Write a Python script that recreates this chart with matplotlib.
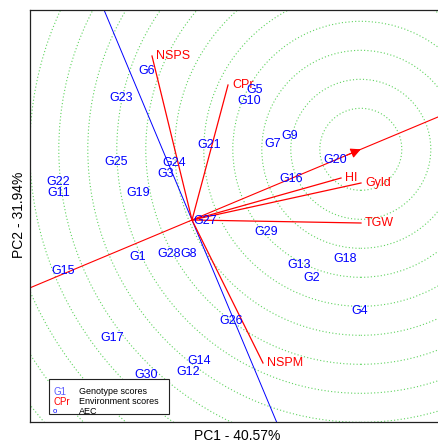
import numpy as np
import matplotlib

matplotlib.use("Agg")
import matplotlib.pyplot as plt
from matplotlib.patches import Rectangle, Circle

plt.rcParams["font.family"] = ["Liberation Sans", "DejaVu Sans"]

# genotype scores (PC1, PC2)
genotypes = ["G1", "G2", "G3", "G4", "G5", "G6", "G7", "G8", "G9", "G10",
             "G11", "G12", "G13", "G14", "G15", "G16", "G17", "G18", "G19", "G20",
             "G21", "G22", "G23", "G24", "G25", "G26", "G27", "G28", "G29", "G30"]
gen_pc1 = [-0.54, 1.20, -0.26, 1.68, 0.63, -0.45, 0.81, -0.03, 0.98, 0.57,
           -1.33, -0.04, 1.07, 0.07, -1.29, 0.99, -0.80, 1.53, -0.54, 1.43,
           0.17, -1.34, -0.71, -0.18, -0.76, 0.39, 0.13, -0.23, 0.74, -0.46]
gen_pc2 = [-0.37, -0.58, 0.46, -0.91, 1.30, 1.49, 0.76, -0.34, 0.84, 1.19,
           0.27, -1.52, -0.45, -1.41, -0.51, 0.41, -1.18, -0.39, 0.27, 0.60,
           0.75, 0.38, 1.22, 0.57, 0.58, -1.01, -0.01, -0.34, -0.12, -1.55]

# environment (trait) scores
environments = ["NSPS", "CPr", "HI", "Gyld", "TGW", "NSPM"]
env_pc1 = [-0.40, 0.36, 1.49, 1.69, 1.69, 0.71]
env_pc2 = [1.64, 1.35, 0.42, 0.37, -0.03, -1.43]

ideal_len = 1.83       # distance of the ideal point along the AEC
circle_step = 0.29
first_radius = 0.41

# AEC direction = mean environment
mx, my = np.mean(env_pc1), np.mean(env_pc2)
norm = np.hypot(mx, my)
ux, uy = mx / norm, my / norm
ideal = (ideal_len * ux, ideal_len * uy)

fig = plt.figure(figsize=(4.38, 4.43), dpi=100)
ax = fig.add_axes([30 / 438, 21 / 443, 410 / 438, 412 / 443])
ax.set_xlim(-1.62, 2.48)
ax.set_ylim(-2.02, 2.10)
ax.set_xticks([])
ax.set_yticks([])
for s in ax.spines.values():
    s.set_linewidth(0.9)
    s.set_color("#222222")

# concentric circles around ideal point
for r in np.arange(first_radius, 6.0, circle_step):
    ax.add_patch(Circle(ideal, r, fill=False, color="#5fd35f", lw=0.8,
                        linestyle=(0, (1, 2)), zorder=1))

# AEC abscissa and ordinate
t = np.array([-10, 10])
ax.plot(t * ux, t * uy, color="red", lw=0.8, zorder=2)
ax.plot(-t * uy, t * ux, color="blue", lw=0.7, zorder=2)
ax.annotate("", xy=ideal, xytext=(ideal[0] - 0.15 * ux, ideal[1] - 0.15 * uy),
            arrowprops=dict(arrowstyle="-|>", color="red", lw=0.8,
                            mutation_scale=15, shrinkA=0, shrinkB=0), zorder=3)

# environment vectors
for name, x, y in zip(environments, env_pc1, env_pc2):
    ax.plot([0, x], [0, y], color="red", lw=0.9, zorder=3)
    ax.text(x + 0.04, y, name, color="red", fontsize=9, ha="left", va="center",
            zorder=4)

# genotype labels
for name, x, y in zip(genotypes, gen_pc1, gen_pc2):
    ax.text(x, y, name, color="blue", fontsize=9, ha="center", va="center",
            zorder=4)

# legend box (figure pixel positions)
W, H = 438, 443
fig.patches.append(Rectangle((49 / W, 1 - 414 / H), 120 / W, 35 / H,
                             transform=fig.transFigure, facecolor="white",
                             edgecolor="#222222", lw=0.8, zorder=5))
rows = [("G1", "#5a5aff", "Genotype scores"),
        ("CPr", "red", "Environment scores"),
        ("o", "blue", "AEC")]
for i, (sym, col, lab) in enumerate(rows):
    yf = 1 - (392 + 9.7 * i) / H
    fig.text(53 / W, yf, sym, color=col, fontsize=7 if sym != "o" else 5.5,
             ha="left", va="center", zorder=6)
    fig.text(79 / W, yf, lab, color="black", fontsize=6.5, ha="left",
             va="center", zorder=6)

fig.text(237.5 / W, 1 - 436 / H, "PC1 - 40.57%", fontsize=10,
         ha="center", va="center")
fig.text(19 / W, 1 - 215 / H, "PC2 - 31.94%", fontsize=10,
         ha="center", va="center", rotation=90)

fig.savefig("out.png", dpi=100)
